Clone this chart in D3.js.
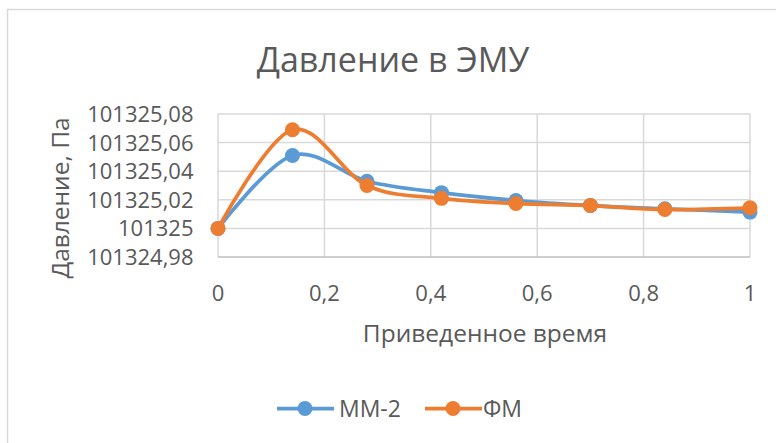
<!DOCTYPE html>
<html>
<head>
<meta charset="utf-8">
<script src="https://cdn.jsdelivr.net/npm/d3@7"></script>
<style>
  html, body { margin: 0; padding: 0; background: #fff; }
  svg { display: block; }
  text { font-family: "Open Sans", Lato, sans-serif; fill: #595959; }
</style>
</head>
<body>
<svg id="chart" width="776" height="443"></svg>
<script>
// Reduced time points
const times = [0, 0.14, 0.28, 0.42, 0.56, 0.7, 0.84, 1];
// Pressure, Pa
const mm2 = [101325.000, 101325.051, 101325.033, 101325.025, 101325.0195, 101325.016, 101325.0137, 101325.0114];
const fm  = [101325.000, 101325.069, 101325.030, 101325.021, 101325.0174, 101325.016, 101325.0132, 101325.0144];
const seriesNames = ["ММ-2", "ФМ"];
const xTicks = [0, 0.2, 0.4, 0.6, 0.8, 1];
const yTicks = [101324.98, 101325, 101325.02, 101325.04, 101325.06, 101325.08];

const colors = ["#5b9bd5", "#ed7d31"];
const svg = d3.select("#chart");

// outer chart frame
svg.append("rect").attr("x", 7.5).attr("y", 9.5).attr("width", 780).attr("height", 450)
  .attr("fill", "none").attr("stroke", "#d9d9d9").attr("stroke-width", 1.5);

const x = d3.scaleLinear().domain([0, 1]).range([218, 750]);
const y = d3.scaleLinear().domain([101324.98, 101325.08]).range([257, 114]);

const fmtNum = v => (+v.toFixed(2)).toString().replace(".", ",");

// horizontal gridlines
svg.append("g").selectAll("line").data(yTicks.slice(1)).join("line")
  .attr("x1", x(0)).attr("x2", x(1))
  .attr("y1", d => y(d)).attr("y2", d => y(d))
  .attr("stroke", "#d9d9d9").attr("stroke-width", 1.5);

// vertical gridlines
svg.append("g").selectAll("line").data(xTicks).join("line")
  .attr("x1", d => x(d)).attr("x2", d => x(d))
  .attr("y1", y(101325.08)).attr("y2", y(101324.98))
  .attr("stroke", "#d9d9d9").attr("stroke-width", 1.5);

// bottom axis line
svg.append("line").attr("x1", x(0)).attr("x2", x(1))
  .attr("y1", y(101324.98)).attr("y2", y(101324.98))
  .attr("stroke", "#bfbfbf").attr("stroke-width", 1.5);

// y tick labels
svg.append("g").selectAll("text").data(yTicks).join("text")
  .attr("x", 193.5).attr("y", d => y(d)).attr("dy", "0.36em")
  .attr("text-anchor", "end").attr("font-size", 22)
  .text(fmtNum);

// x tick labels
svg.append("g").selectAll("text").data(xTicks).join("text")
  .attr("x", d => x(d)).attr("y", 293).attr("dy", "0.36em")
  .attr("text-anchor", "middle").attr("font-size", 22)
  .text(fmtNum);

// title
svg.append("text").attr("x", 393).attr("y", 72).attr("text-anchor", "middle")
  .attr("font-size", 34).text("Давление в ЭМУ");

// axis titles
svg.append("text").attr("x", 485).attr("y", 341.5).attr("text-anchor", "middle")
  .attr("font-size", 24.5).text("Приведенное время");
svg.append("text").attr("transform", "translate(69,198) rotate(-90)")
  .attr("text-anchor", "middle").attr("font-size", 24.5).text("Давление, Па");

// series
const line = d3.line().x(d => x(d[0])).y(d => y(d[1])).curve(d3.curveCardinal.tension(0));
[mm2, fm].forEach((vals, i) => {
  const pts = times.map((t, k) => [t, vals[k]]);
  const g = svg.append("g");
  g.append("path").datum(pts).attr("d", line)
    .attr("fill", "none").attr("stroke", colors[i]).attr("stroke-width", 3.75)
    .attr("stroke-linejoin", "round");
  g.selectAll("circle").data(pts).join("circle")
    .attr("cx", d => x(d[0])).attr("cy", d => y(d[1])).attr("r", 7.5)
    .attr("fill", colors[i]);
});

// legend
const legendItems = [{x: 277, tx: 339}, {x: 425, tx: 483}];
legendItems.forEach((it, i) => {
  const g = svg.append("g");
  g.append("line").attr("x1", it.x).attr("x2", it.x + 57).attr("y1", 408.5).attr("y2", 408.5)
    .attr("stroke", colors[i]).attr("stroke-width", 3.75);
  g.append("circle").attr("cx", it.x + 28).attr("cy", 408.5).attr("r", 7.5).attr("fill", colors[i]);
  g.append("text").attr("x", it.tx).attr("y", 416.5)
    .attr("font-size", 23).text(seriesNames[i]);
});
</script>
</body>
</html>
